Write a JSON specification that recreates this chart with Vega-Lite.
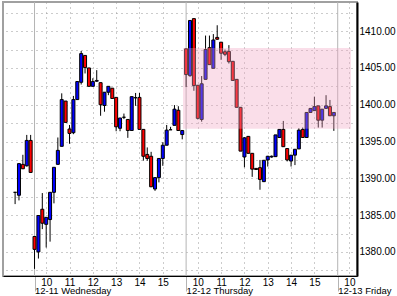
{
"$schema": "https://vega.github.io/schema/vega-lite/v6.json",
"width": 354, "height": 274,
"autosize": {"type": "none"},
"padding": {"left": 3, "top": 2, "right": 40, "bottom": 20},
"background": "white",
"config": {"view": {"stroke": "#a0a0a0", "strokeWidth": 2}, "font": "Liberation Sans", "axis": {"labelFont": "Liberation Sans", "labelFontSize": 10, "labelColor": "black", "title": null}},
"resolve": {"axis": {"x": "independent"}},
"datasets": {
"bars": [
{"k":-5,"o":1388.1,"h":1388.1,"l":1386.5,"c":1388.1},
{"k":-4,"o":1387.7,"h":1392.0,"l":1387.0,"c":1392.0},
{"k":-3,"o":1391.9,"h":1393.2,"l":1391.3,"c":1391.3},
{"k":-2,"o":1391.7,"h":1395.9,"l":1391.6,"c":1395.15},
{"k":-1,"o":1395.15,"h":1395.9,"l":1390.8,"c":1390.8},
{"k":0,"o":1382.1,"h":1382.1,"l":1377.7,"c":1380.35},
{"k":1,"o":1380.0,"h":1385.0,"l":1379.1,"c":1384.95},
{"k":2,"o":1385.8,"h":1388.0,"l":1383.1,"c":1383.9},
{"k":3,"o":1383.75,"h":1384.7,"l":1380.6,"c":1384.7},
{"k":4,"o":1384.4,"h":1388.1,"l":1381.4,"c":1388.1},
{"k":5,"o":1388.1,"h":1391.5,"l":1386.6,"c":1391.5},
{"k":6,"o":1391.9,"h":1395.55,"l":1391.9,"c":1393.8},
{"k":7,"o":1394.35,"h":1401.55,"l":1394.35,"c":1400.7},
{"k":8,"o":1400.5,"h":1400.5,"l":1397.6,"c":1397.6},
{"k":9,"o":1396.7,"h":1397.25,"l":1394.7,"c":1396.1},
{"k":10,"o":1396.2,"h":1401.2,"l":1396.0,"c":1400.7},
{"k":11,"o":1400.7,"h":1403.2,"l":1400.7,"c":1403.15},
{"k":12,"o":1403.05,"h":1407.3,"l":1402.75,"c":1406.95},
{"k":13,"o":1406.7,"h":1406.7,"l":1404.25,"c":1405.05},
{"k":14,"o":1405.0,"h":1405.0,"l":1402.5,"c":1402.5},
{"k":15,"o":1402.5,"h":1403.6,"l":1402.5,"c":1403.15},
{"k":16,"o":1403.2,"h":1404.7,"l":1403.1,"c":1403.3},
{"k":17,"o":1403.0,"h":1403.0,"l":1398.5,"c":1400.0},
{"k":18,"o":1399.9,"h":1401.7,"l":1399.05,"c":1401.7},
{"k":19,"o":1401.7,"h":1402.5,"l":1401.3,"c":1402.5},
{"k":20,"o":1402.25,"h":1402.25,"l":1400.85,"c":1400.85},
{"k":21,"o":1401.0,"h":1401.0,"l":1396.4,"c":1397.0},
{"k":22,"o":1396.8,"h":1398.2,"l":1396.4,"c":1398.2},
{"k":23,"o":1398.3,"h":1398.8,"l":1398.05,"c":1398.3},
{"k":24,"o":1398.0,"h":1398.0,"l":1395.5,"c":1396.5},
{"k":25,"o":1396.5,"h":1401.1,"l":1396.5,"c":1401.1},
{"k":26,"o":1400.95,"h":1401.6,"l":1399.85,"c":1400.95},
{"k":27,"o":1401.0,"h":1401.6,"l":1396.65,"c":1396.65},
{"k":28,"o":1396.65,"h":1396.65,"l":1392.4,"c":1393.0},
{"k":29,"o":1393.25,"h":1394.2,"l":1392.4,"c":1392.7},
{"k":30,"o":1393.0,"h":1393.6,"l":1388.85,"c":1388.85},
{"k":31,"o":1388.55,"h":1390.1,"l":1388.3,"c":1390.1},
{"k":32,"o":1390.1,"h":1392.7,"l":1389.45,"c":1392.7},
{"k":33,"o":1392.7,"h":1394.9,"l":1391.7,"c":1394.5},
{"k":34,"o":1394.5,"h":1397.25,"l":1394.5,"c":1396.55},
{"k":35,"o":1396.6,"h":1397.0,"l":1396.6,"c":1396.6},
{"k":36,"o":1397.2,"h":1399.95,"l":1397.2,"c":1399.4},
{"k":37,"o":1399.25,"h":1399.8,"l":1396.5,"c":1396.5},
{"k":38,"o":1395.95,"h":1396.5,"l":1395.3,"c":1396.5},
{"k":39,"o":1407.6,"h":1407.6,"l":1402.4,"c":1404.1},
{"k":40,"o":1403.95,"h":1411.5,"l":1403.8,"c":1411.45},
{"k":41,"o":1411.7,"h":1411.7,"l":1401.9,"c":1402.6},
{"k":42,"o":1402.65,"h":1402.65,"l":1398.0,"c":1398.15},
{"k":43,"o":1398.0,"h":1403.9,"l":1397.7,"c":1402.85},
{"k":44,"o":1403.45,"h":1409.4,"l":1403.45,"c":1407.5},
{"k":45,"o":1407.75,"h":1409.4,"l":1405.45,"c":1405.45},
{"k":46,"o":1404.95,"h":1409.6,"l":1404.95,"c":1408.8},
{"k":47,"o":1409.15,"h":1410.8,"l":1408.85,"c":1408.9},
{"k":48,"o":1408.5,"h":1408.5,"l":1406.1,"c":1407.0},
{"k":49,"o":1407.2,"h":1407.5,"l":1406.6,"c":1406.85},
{"k":50,"o":1407.25,"h":1408.1,"l":1405.6,"c":1405.85},
{"k":51,"o":1405.9,"h":1405.9,"l":1403.3,"c":1403.3},
{"k":52,"o":1403.45,"h":1403.45,"l":1399.65,"c":1399.65},
{"k":53,"o":1399.65,"h":1399.65,"l":1393.7,"c":1393.7},
{"k":54,"o":1392.9,"h":1395.6,"l":1391.5,"c":1395.5},
{"k":55,"o":1395.7,"h":1395.7,"l":1393.4,"c":1393.4},
{"k":56,"o":1393.4,"h":1393.4,"l":1390.2,"c":1391.25},
{"k":57,"o":1391.35,"h":1391.4,"l":1391.2,"c":1391.2},
{"k":58,"o":1391.45,"h":1392.5,"l":1388.45,"c":1389.85},
{"k":59,"o":1389.55,"h":1392.5,"l":1389.5,"c":1392.45},
{"k":60,"o":1392.5,"h":1393.05,"l":1391.6,"c":1393.0},
{"k":61,"o":1392.9,"h":1393.1,"l":1392.8,"c":1393.0},
{"k":62,"o":1392.95,"h":1395.9,"l":1392.95,"c":1395.9},
{"k":63,"o":1395.55,"h":1396.7,"l":1395.55,"c":1396.65},
{"k":64,"o":1396.65,"h":1397.8,"l":1394.3,"c":1394.3},
{"k":65,"o":1394.05,"h":1394.05,"l":1392.3,"c":1392.5},
{"k":66,"o":1392.35,"h":1393.15,"l":1391.6,"c":1393.15},
{"k":67,"o":1393.15,"h":1393.95,"l":1391.8,"c":1393.95},
{"k":68,"o":1394.0,"h":1396.8,"l":1394.0,"c":1396.55},
{"k":69,"o":1396.65,"h":1396.9,"l":1395.55,"c":1395.55},
{"k":70,"o":1395.55,"h":1399.0,"l":1395.55,"c":1398.95},
{"k":71,"o":1398.95,"h":1399.5,"l":1398.95,"c":1399.5},
{"k":72,"o":1399.2,"h":1401.1,"l":1399.2,"c":1399.75},
{"k":73,"o":1399.85,"h":1399.85,"l":1396.9,"c":1397.9},
{"k":74,"o":1397.9,"h":1399.4,"l":1396.9,"c":1399.4},
{"k":75,"o":1399.5,"h":1401.3,"l":1399.5,"c":1399.85},
{"k":76,"o":1399.75,"h":1400.65,"l":1398.5,"c":1398.5},
{"k":77,"o":1398.5,"h":1398.95,"l":1396.45,"c":1398.95}
]},
"layer": [
{
"data": {"values": [{"k":0},{"k":39},{"k":78}]},
"mark": {"type": "rule", "color": "#b4b4b4", "strokeWidth": 1},
"encoding": {
"x": {"field": "k", "type": "quantitative", "scale": {"domain": [-6.825, 81.675], "nice": false, "zero": false},
"axis": {"orient": "bottom", "values": [0, 39, 78], "labelExpr": "datum.value == 0 ? '12-11 Wednesday' : datum.value == 39 ? '12-12 Thursday' : '12-13 Friday'", "grid": false, "domain": false, "ticks": true, "tickColor": "#b4b4b4", "tickSize": 15, "labelAlign": "left", "labelPadding": -6, "labelDx": 0, "labelFlush": false, "labelOverlap": false, "labelFontSize": 9.5, "title": null}}
}
},
{
"data": {"name": "bars"},
"mark": {"type": "rule", "color": "black", "strokeWidth": 1},
"encoding": {
"x": {"field": "k", "type": "quantitative", "scale": {"domain": [-6.825, 81.675], "nice": false, "zero": false},
"axis": {"orient": "bottom", "values": [3, 9, 15, 21, 27, 33, 42, 48, 54, 60, 66, 72, 81], "labelExpr": "'' + (datum.value < 39 ? (datum.value - 3) / 6 + 10 : datum.value < 78 ? (datum.value - 42) / 6 + 10 : (datum.value - 81) / 6 + 10)", "grid": true, "gridColor": "#999999", "gridDash": [1, 4], "gridWidth": 1, "ticks": false, "domain": true, "domainColor": "black", "domainWidth": 1, "labelPadding": 1, "labelFlush": false, "labelOverlap": false, "title": null}},
"y": {"field": "l", "type": "quantitative", "scale": {"domain": [1376.73, 1413.96], "nice": false, "zero": false},
"axis": {"orient": "right", "values": [1377.5, 1380, 1382.5, 1385, 1387.5, 1390, 1392.5, 1395, 1397.5, 1400, 1402.5, 1405, 1407.5, 1410, 1412.5], "labelExpr": "datum.value % 5 == 0 ? format(datum.value, '.2f') : ''", "grid": true, "gridColor": "#999999", "gridDash": [1, 4], "ticks": false, "domainColor": "black", "domainWidth": 2, "labelPadding": 2, "labelFlush": false, "labelOverlap": false, "title": null}},
"y2": {"field": "h"}
}
},
{
"data": {"name": "bars"},
"mark": {"type": "bar", "size": 3, "stroke": "black", "strokeWidth": 1},
"encoding": {
"x": {"field": "k", "type": "quantitative", "scale": {"domain": [-6.825, 81.675], "nice": false, "zero": false}, "axis": null},
"y": {"field": "o", "type": "quantitative", "scale": {"domain": [1376.73, 1413.96], "nice": false, "zero": false},
"axis": {"orient": "right", "values": [1377.5, 1380, 1382.5, 1385, 1387.5, 1390, 1392.5, 1395, 1397.5, 1400, 1402.5, 1405, 1407.5, 1410, 1412.5], "labelExpr": "datum.value % 5 == 0 ? format(datum.value, '.2f') : ''", "grid": true, "gridColor": "#999999", "gridDash": [1, 4], "ticks": false, "domainColor": "black", "domainWidth": 2, "labelPadding": 2, "labelFlush": false, "labelOverlap": false, "title": null}},
"y2": {"field": "c"},
"fill": {"condition": {"test": "datum.c >= datum.o", "value": "#0000ff"}, "value": "#ff0000"}
}
},
{
"data": {"values": [{"x1": 38.2, "x2": 81.4, "lo": 1396.75, "hi": 1407.7}]},
"mark": {"type": "rect", "color": "#f0a0c0", "opacity": 0.35},
"encoding": {
"x": {"field": "x1", "type": "quantitative", "scale": {"domain": [-6.825, 81.675], "nice": false, "zero": false}, "axis": null},
"x2": {"field": "x2"},
"y": {"field": "lo", "type": "quantitative", "scale": {"domain": [1376.73, 1413.96], "nice": false, "zero": false},
"axis": {"orient": "right", "values": [1377.5, 1380, 1382.5, 1385, 1387.5, 1390, 1392.5, 1395, 1397.5, 1400, 1402.5, 1405, 1407.5, 1410, 1412.5], "labelExpr": "datum.value % 5 == 0 ? format(datum.value, '.2f') : ''", "grid": true, "gridColor": "#999999", "gridDash": [1, 4], "ticks": false, "domainColor": "black", "domainWidth": 2, "labelPadding": 2, "labelFlush": false, "labelOverlap": false, "title": null}},
"y2": {"field": "hi"}
}
}
]
}
